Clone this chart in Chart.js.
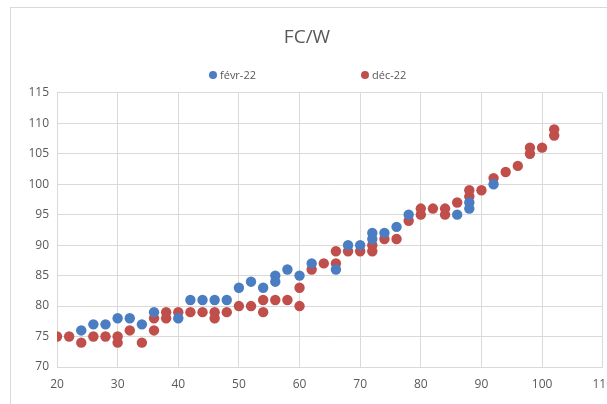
<!DOCTYPE html>
<html>
<head>
<meta charset="utf-8">
<script src="https://cdn.jsdelivr.net/npm/chart.js@4/dist/chart.umd.min.js"></script>
<style>
  html, body { margin: 0; padding: 0; background: #fff; overflow: hidden; }
  #frame {
    position: absolute; left: 10px; top: 7px;
    width: 612px; height: 400px;
    border: 1px solid #d9d9d9;
  }
  #legend {
    position: absolute; left: 198px; top: 59px;
    display: flex; gap: 105px;
    font: 11px "Open Sans", sans-serif; color: #595959;
  }
  #legend span { display: flex; align-items: center; }
  #legend i { display: inline-block; width: 8px; height: 8px; border-radius: 50%; margin-right: 3px; }
</style>
</head>
<body>
<div id="frame">
  <canvas id="fcChart" width="612" height="396"></canvas>
  <div id="legend"></div>
</div>
<script>
/* ===== DATA ===== */
const seriesNames = ["févr-22", "déc-22"];
const seriesColors = ["#4a7dc1", "#c04f4c"];

// févr-22 : W / FC
const febX = [24,26,28,30,32,34,36,40,42,44,46,48,50,52,54,56,56,58,60,62,66,68,70,72,72,74,76,78,86,88,88,92];
const febY = [76,77,77,78,78,77,79,78,81,81,81,81,83,84,83,85,84,86,85,87,86,90,90,92,91,92,93,95,95,97,96,100];

// déc-22 : W / FC
const decX = [20,22,24,26,28,30,30,32,34,36,36,38,38,40,42,44,46,46,48,50,52,54,54,56,58,60,60,62,64,66,66,68,70,72,72,74,76,78,80,80,82,84,84,86,88,88,90,92,94,96,98,98,100,102,102];
const decY = [75,75,74,75,75,75,74,76,74,78,76,79,78,79,79,79,79,78,79,80,80,81,79,81,81,83,80,86,87,89,87,89,89,90,89,91,91,94,96,95,96,96,95,97,99,98,99,101,102,103,106,105,106,109,108];

const xTicks = [20,30,40,50,60,70,80,90,100,110];
const yTicks = [70,75,80,85,90,95,100,105,110,115];

const toPoints = (xs, ys) => xs.map((x, i) => ({x: x, y: ys[i]}));

/* ===== LEGEND ===== */
const legend = document.getElementById("legend");
seriesNames.forEach((name, i) => {
    const item = document.createElement("span");
    item.innerHTML = '<i style="background:' + seriesColors[i] + '"></i>' + name;
    legend.appendChild(item);
});

/* ===== SCATTER ===== */
const ctx = document.getElementById("fcChart").getContext("2d");
const tickFont = {family: "'Open Sans', sans-serif", size: 12};

new Chart(ctx, {
    type: "scatter",
    data: {
        datasets: [
            {label: seriesNames[0], data: toPoints(febX, febY), backgroundColor: seriesColors[0], borderWidth: 0, pointRadius: 5.2, pointHoverRadius: 5.2},
            {label: seriesNames[1], data: toPoints(decX, decY), backgroundColor: seriesColors[1], borderWidth: 0, pointRadius: 5.2, pointHoverRadius: 5.2}
        ]
    },
    options: {
        responsive: false,
        animation: false,
        layout: {padding: {left: 0, right: 20, top: 0, bottom: 0}},
        plugins: {
            legend: {display: false},
            tooltip: {enabled: false},
            title: {
                display: true,
                text: "FC/W",
                color: "#595959",
                font: {family: "'Open Sans', sans-serif", size: 19, weight: "normal"},
                padding: {top: 18, bottom: 44}
            }
        },
        scales: {
            x: {
                type: "linear",
                min: 20, max: 110,
                afterBuildTicks: s => { s.ticks = xTicks.map(v => ({value: v})); },
                afterFit: s => { s.height = 37; },
                grid: {color: "#d9d9d9", drawTicks: false},
                border: {color: "#d9d9d9"},
                ticks: {color: "#595959", font: tickFont, padding: 10, maxRotation: 0}
            },
            y: {
                min: 70, max: 115,
                afterBuildTicks: s => { s.ticks = yTicks.map(v => ({value: v})); },
                afterFit: s => { s.width = 46; },
                grid: {color: "#d9d9d9", drawTicks: false},
                border: {color: "#d9d9d9"},
                ticks: {color: "#595959", font: tickFont, padding: 8}
            }
        }
    }
});
</script>
</body>
</html>
